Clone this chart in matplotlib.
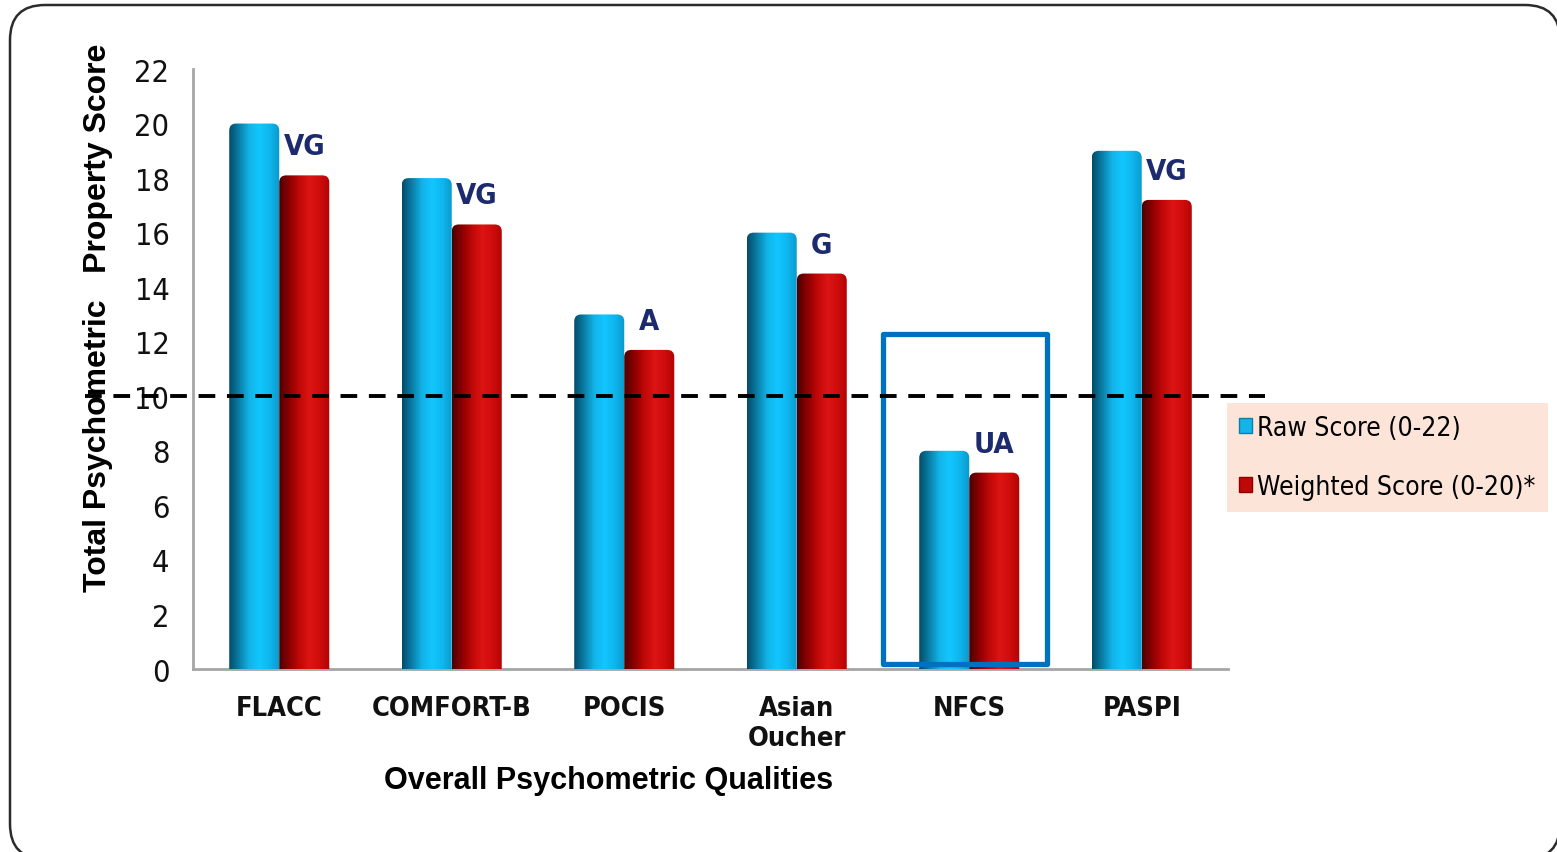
"""Psychometric property scores of pain scales, cylinder-style grouped bars."""

import numpy as np
import matplotlib
matplotlib.use("Agg")
import matplotlib.pyplot as plt
from matplotlib.colors import LinearSegmentedColormap
from matplotlib.patches import FancyBboxPatch, Rectangle, Patch

# data
scales = ["FLACC", "COMFORT-B", "POCIS", "Asian\nOucher", "NFCS", "PASPI"]
raw_scores = [20, 18, 13, 16, 8, 19]
weighted_scores = [18.1, 16.3, 11.7, 14.5, 7.2, 17.2]
ratings = ["VG", "VG", "A", "G", "UA", "VG"]
legend_labels = ["Raw Score (0-22)", "Weighted Score (0-20)*"]
yticks = list(range(0, 23, 2))
cutoff = 10

plt.rcParams["font.family"] = ["DejaVu Sans"]
plt.rcParams["font.stretch"] = "condensed"

W, H = 1557, 853
fig = plt.figure(figsize=(W / 100, H / 100), dpi=100, facecolor="white")

# outer rounded frame drawn in pixel space
bg = fig.add_axes([0, 0, 1, 1], zorder=-5)
bg.set_xlim(0, W)
bg.set_ylim(H, 0)
bg.axis("off")
bg.add_patch(FancyBboxPatch((10, 6), 1550, 854,
                            boxstyle="round,pad=0,rounding_size=35",
                            fc="white", ec="#2b2b2b", lw=1.8))

ax = fig.add_axes([193 / W, 1 - 670 / H, 1035 / W, 600 / H])
ax.set_facecolor("none")

x = np.arange(len(scales))
bw = 0.29
# plain bars first (library geometry), then painted as cylinders
raw_bars = ax.bar(x - bw / 2, raw_scores, bw, color="none", zorder=2)
wt_bars = ax.bar(x + bw / 2, weighted_scores, bw, color="none", zorder=2)

blue_cm = LinearSegmentedColormap.from_list(
    "cyl_blue", ["#034b66", "#0a7fa8", "#13b4e8", "#12c6ff", "#0fb6ee", "#0a98c8"])
red_cm = LinearSegmentedColormap.from_list(
    "cyl_red", ["#4a0000", "#8c0000", "#c00808", "#dc1414", "#cf0c0c", "#b00404"])
grad = np.linspace(0, 1, 256).reshape(1, -1)

ax.set_xlim(-0.5, 5.5)
ax.set_ylim(0, 22)
asp = (1035 / 6) / (600 / 22)  # x px per unit / y px per unit


def paint(bars, cmap):
    for b in bars:
        x0, w, h = b.get_x(), b.get_width(), b.get_height()
        shape = FancyBboxPatch((x0, -1), w, h + 1,
                               boxstyle="round,pad=0,rounding_size=%f" % (w * 0.14),
                               mutation_aspect=asp, fc="none", ec="none",
                               transform=ax.transData)
        ax.add_patch(shape)
        im = ax.imshow(grad, extent=(x0, x0 + w, 0, h), aspect="auto",
                       cmap=cmap, interpolation="bicubic", zorder=3)
        im.set_clip_path(shape)


paint(raw_bars, blue_cm)
paint(wt_bars, red_cm)
ax.set_xlim(-0.5, 5.5)
ax.set_ylim(0, 22)

# rating labels above weighted bars
for b, r in zip(wt_bars, ratings):
    ax.text(b.get_x() + b.get_width() / 2, b.get_height() + 0.55, r,
            ha="center", va="bottom", fontsize=21, fontweight="bold",
            color="#1c2a6e", zorder=6)

# highlight box around NFCS
ax.add_patch(Rectangle((3.5, 0.18), 0.95, 12.1, fill=False, ec="#0070c0",
                       lw=3.8, joinstyle="round", zorder=5, clip_on=False))

# axes styling
for s in ["top", "right"]:
    ax.spines[s].set_visible(False)
for s in ["left", "bottom"]:
    ax.spines[s].set_color("#a6a6a6")
    ax.spines[s].set_linewidth(2)
ax.set_yticks(yticks)
ax.set_xticks(x)
ax.set_xticklabels(scales, fontsize=19.5, fontweight="bold", linespacing=1.2)
ax.tick_params(axis="y", length=0, pad=17, labelsize=22, labelcolor="#111111")
ax.tick_params(axis="x", length=0, pad=19, labelcolor="#111111")

fig.text(98 / W, 1 - 318 / H, "Total Psychometric   Property Score",
         rotation=90, ha="center", va="center", fontsize=23,
         fontweight="bold", family="Liberation Sans", fontstretch="normal")
fig.text(609 / W, 1 - 781 / H, "Overall Psychometric Qualities",
         ha="center", va="center", fontsize=22, fontweight="bold",
         family="Liberation Sans", fontstretch="normal")

# cut-off line at 10, running past both ends of the axes (drawn on top)
fig.add_artist(plt.Line2D([85 / W, 1265 / W], [1 - 397 / H, 1 - 397 / H],
                          color="black", lw=2.8, dashes=(4.3, 3.0), zorder=10))

handles = [Patch(fc="#13b4e8", ec="#0a7fa8"), Patch(fc="#c00808", ec="#8c0000")]
leg = ax.legend(handles, legend_labels,
                loc="upper left", bbox_to_anchor=(1227 / W, 1 - 404 / H),
                bbox_transform=fig.transFigure, frameon=True,
                prop={"size": 19, "stretch": "condensed"},
                fancybox=False, facecolor="#fce5d8", edgecolor="none",
                framealpha=1, handlelength=0.5, handleheight=0.5,
                handletextpad=0.2, borderpad=0.45, borderaxespad=0,
                labelspacing=1.25)

fig.savefig("out.png", dpi=100, facecolor="white")
